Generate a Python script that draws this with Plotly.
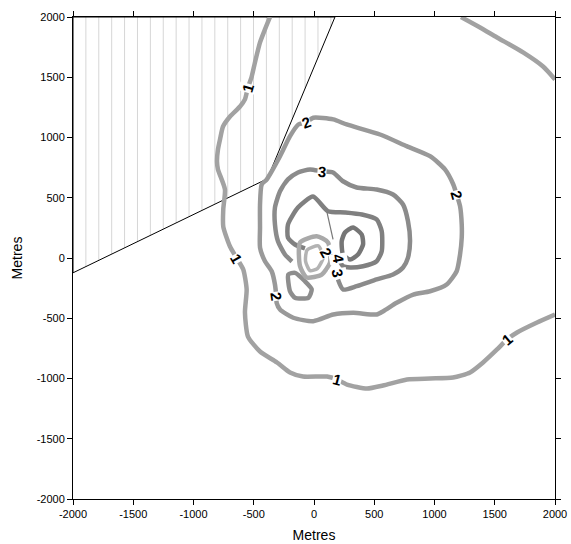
import numpy as np
import plotly.graph_objects as go

# ---- axis ticks ----
tick_vals = [-2000, -1500, -1000, -500, 0, 500, 1000, 1500, 2000]
tick_text = ["-2000", "-1500", "-1000", "-500", "0", "500", "1000", "1500", "2000"]

# ---- hatched (masked) region polygon, metres ----
hatch_x = [-2000, 174, -388, -2000, -2000]
hatch_y = [2000, 2000, 657, -123, 2000]
hatch_spacing = 107

# ---- contour lines (metres) ----
c1_main_x = [-365, -407, -448, -490, -517, -550, -573, -614, -697, -755, -780, -797, -805, -797,
             -739, -753, -753, -697, -642, -587, -559, -573, -548, -448, -307, -199, -91, 108,
             191, 274, 440, 573, 772, 963, 1154, 1295, 1403, 1519, 1602, 1685, 1851, 2000]
c1_main_y = [2000, 1897, 1789, 1623, 1506, 1407, 1316, 1257, 1174, 1091, 984, 901, 800, 735,
             569, 403, 261, 95, 0, -95, -261, -452, -652, -776, -867, -950, -984, -984,
             -1008, -1050, -1083, -1058, -1008, -1000, -992, -950, -867, -759, -676, -618, -535, -469]

c1_corner_x = [1220, 1378, 1519, 1735, 1901, 2000]
c1_corner_y = [2000, 1913, 1830, 1706, 1589, 1482]

c2_x = [-6, 160, 271, 548, 769, 963, 1087, 1156, 1184, 1212, 1226, 1226, 1212, 1184, 1101, 963,
        824, 686, 575, 520, 326, 160, -6, -172, -282, -310, -313, -324, -351, -407, -448, -448,
        -448, -434, -393, -282, -199, -130, -66, -6]
c2_y = [1164, 1150, 1108, 1025, 928, 845, 735, 610, 527, 430, 278, 168, 29, -110, -220, -276,
        -303, -372, -442, -469, -455, -469, -525, -496, -427, -372, -320, -220, -110, -27, 87, 253,
        444, 610, 651, 845, 1011, 1108, 1125, 1164]

c3_x = [199, 241, 354, 520, 656, 739, 780, 797, 780, 739, 656, 520, 354, 241, 158, 64, -33,
        -133, -216, -282, -324, -324, -299, -241, -183]
c3_y = [-178, -261, -234, -178, -137, -79, 4, 139, 305, 444, 527, 569, 585, 637, 710, 720, 735,
        710, 652, 554, 419, 278, 139, 29, -29]

c4_x = [-75, -158, -216, -216, -133, -8, 116, 257, 398, 520, 562, 562, 520, 407, 299, 241, 202]
c4_y = [79, 112, 170, 278, 419, 510, 388, 378, 361, 320, 222, 56, -27, -68, -79, -68, -4]

spike_x = [108, 158]
spike_y = [378, 154]

c5_x = [324, 396, 407, 365, 299, 241, 230, 257, 324]
c5_y = [253, 195, 112, 29, -12, 29, 139, 212, 253]

low_outer_x = [-116, 22, 116, 133, 64, -61, -116, -116]
low_outer_y = [129, 181, 129, -37, -137, -162, -68, 129]
low_inner_x = [-58, 36, 76, 28, -33, -70, -58]
low_inner_y = [66, 100, 4, -88, -105, -27, 66]

trap_x = [-213, -158, -75, -19, -47, -158, -199, -213]
trap_y = [-137, -123, -193, -261, -330, -330, -276, -137]

# ---- contour labels ----
label_text = ["1", "1", "1", "1", "2", "2", "2", "3", "3", "4", "2"]
label_x = [-550, -642, 191, 1602, -66, 1184, -313, 64, 195, 202, 100]
label_y = [1407, 0, -1008, -676, 1125, 527, -320, 720, -120, -4, 46]
label_angle = [-74, 60, 15, -40, -20, 74, 82, 5, 80, 80, 60]

fig = go.Figure()

# hatch lines clipped to the polygon's lower boundary
bx = np.array(hatch_x[2:4][::-1] + [hatch_x[1]])  # -2000, -388, 174
by = np.array(hatch_y[2:4][::-1] + [hatch_y[1]])
hx, hy = [], []
k = 1
while -2000 + hatch_spacing * k < hatch_x[1]:
    xv = -2000 + hatch_spacing * k
    yb = float(np.interp(xv, bx, by))
    hx += [xv, xv, None]
    hy += [2000, yb, None]
    k += 1
fig.add_trace(go.Scatter(x=hx, y=hy, mode="lines", line=dict(color="#d6d6d6", width=1),
                         hoverinfo="skip", showlegend=False))
fig.add_trace(go.Scatter(x=hatch_x, y=hatch_y, mode="lines", line=dict(color="black", width=1),
                         hoverinfo="skip", showlegend=False))

def add_line(x, y, color, width=4.5):
    fig.add_trace(go.Scatter(x=x, y=y, mode="lines",
                             line=dict(color=color, width=width, shape="spline", smoothing=0.6),
                             hoverinfo="skip", showlegend=False))

add_line(c1_main_x, c1_main_y, "#a2a2a2")
add_line(c1_corner_x, c1_corner_y, "#a2a2a2")
add_line(c2_x, c2_y, "#999999")
add_line(c3_x, c3_y, "#8b8b8b")
add_line(trap_x, trap_y, "#8e8e8e")
add_line(c4_x, c4_y, "#808080")
add_line(c5_x, c5_y, "#767676")
add_line(low_outer_x, low_outer_y, "#a9a9a9")
add_line(low_inner_x, low_inner_y, "#b3b3b3", 3.5)
fig.add_trace(go.Scatter(x=spike_x, y=spike_y, mode="lines", line=dict(color="#777777", width=1.2),
                         hoverinfo="skip", showlegend=False))

for t, x, y, a in zip(label_text, label_x, label_y, label_angle):
    fig.add_annotation(x=x, y=y, text="<b>" + t + "</b>", showarrow=False, textangle=a,
                       font=dict(family="Liberation Sans", size=15, color="black"),
                       bgcolor="white", borderpad=0)

axis_common = dict(range=[-2000, 2000], tickvals=tick_vals, ticktext=tick_text,
                   ticks="outside", ticklen=5, tickwidth=1, tickcolor="black",
                   showline=True, linecolor="black", linewidth=1, mirror="ticks",
                   showgrid=False, zeroline=False, automargin=False,
                   tickfont=dict(family="Liberation Sans", size=11, color="black"))

fig.update_layout(
    width=571, height=544,
    margin=dict(l=73, r=16, t=17, b=45, autoexpand=False),
    paper_bgcolor="white", plot_bgcolor="white",
    xaxis=dict(**axis_common, title=dict(text="Metres", standoff=10,
                                         font=dict(family="Liberation Sans", size=14, color="black"))),
    yaxis=dict(**axis_common, title=dict(text="Metres", standoff=10,
                                         font=dict(family="Liberation Sans", size=14, color="black"))),
)

fig.write_html("out.html",
               config={"displayModeBar": False, "staticPlot": True},
               post_script="document.body.style.margin='0';document.body.style.overflow='hidden';")
